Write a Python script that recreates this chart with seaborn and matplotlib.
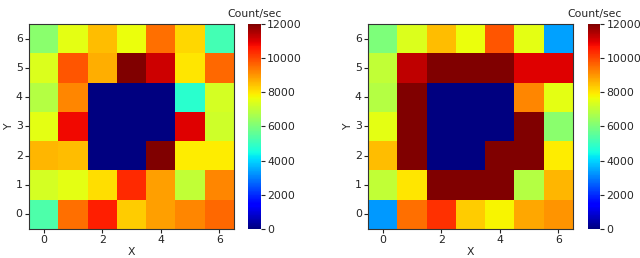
import numpy as np
import pandas as pd
import matplotlib
matplotlib.use("Agg")
import matplotlib.pyplot as plt
import seaborn as sns

# count rates, rows from y=6 (top) down to y=0
left_counts = [
    [6200, 7500, 8500, 7600, 9500, 8200, 5200],
    [7400, 9800, 8700, 12000, 11200, 8000, 9600],
    [6800, 9200, 0, 0, 0, 4800, 7300],
    [7500, 10800, 0, 0, 0, 11000, 7200],
    [8600, 8500, 0, 0, 12000, 7900, 7900],
    [7300, 7500, 8100, 10400, 8900, 7000, 9200],
    [5300, 9500, 10500, 8300, 8900, 9200, 9600],
]
right_counts = [
    [6000, 7400, 8500, 7600, 9800, 7500, 3400],
    [7000, 11300, 12000, 12000, 12000, 11000, 11000],
    [6800, 12000, 0, 0, 0, 9200, 7500],
    [7500, 12000, 0, 0, 0, 12000, 6200],
    [8500, 12000, 0, 0, 12000, 12000, 7900],
    [7000, 8000, 12000, 12000, 12000, 6800, 8600],
    [3300, 9500, 10300, 8300, 7800, 8800, 9000],
]
x_pos = [0, 1, 2, 3, 4, 5, 6]
y_pos = [6, 5, 4, 3, 2, 1, 0]
x_ticks = [0, 2, 4, 6]
cbar_ticks = [0, 2000, 4000, 6000, 8000, 10000, 12000]

sns.set_style("white")
plt.rcParams["font.family"] = ["DejaVu Sans"]
fs = 7.8

fig = plt.figure(figsize=(6.4, 2.58), dpi=100)
panels = [
    (left_counts, [0.0453, 0.1124, 0.3203, 0.7946], [0.3875, 0.1124, 0.0203, 0.7946]),
    (right_counts, [0.575, 0.1124, 0.3203, 0.7946], [0.9188, 0.1124, 0.019, 0.7946]),
]

for counts, ax_rect, cb_rect in panels:
    ax = fig.add_axes(ax_rect)
    cax = fig.add_axes(cb_rect)
    df = pd.DataFrame(counts, index=y_pos, columns=x_pos)
    sns.heatmap(df, ax=ax, cbar_ax=cax, cmap="jet", vmin=0, vmax=12000,
                square=False, cbar_kws={"ticks": cbar_ticks})
    ax.set_xticks([x + 0.5 for x in x_ticks])
    ax.set_xticklabels([str(x) for x in x_ticks], rotation=0)
    ax.set_yticks([i + 0.5 for i in range(len(y_pos))])
    ax.set_yticklabels([str(y) for y in y_pos], rotation=0)
    ax.tick_params(axis="both", length=3, width=0.8, direction="out",
                   bottom=True, left=True, labelsize=fs, pad=1.5, colors="#222222")
    ax.set_xlabel("X", fontsize=fs, labelpad=1)
    ax.set_ylabel("Y", fontsize=fs, labelpad=1)
    for s in ax.spines.values():
        s.set_visible(True)
        s.set_linewidth(0.8)
        s.set_color("#333333")
    cax.tick_params(labelsize=fs, length=3, width=0.8, right=True, pad=1.5)
    cax.set_title("Count/sec", fontsize=fs, pad=5)
    cax.yaxis.set_ticks_position("right")
    for s in cax.spines.values():
        s.set_visible(False)

fig.savefig("out.png", dpi=100)
